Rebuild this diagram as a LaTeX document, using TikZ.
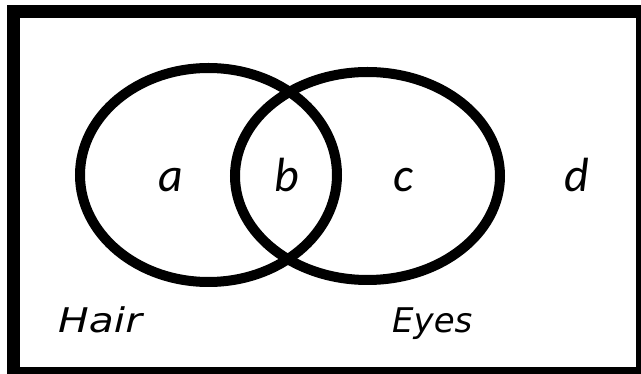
\documentclass[tikz,border=0pt]{standalone}
\usepackage{fontspec}
\newfontfamily\letterfont{Carlito}
\newfontfamily\setfont{DejaVu Sans}
\tikzset{
  venn/.style={line width=10pt, draw=black},
  frame/.style={line width=13pt, draw=black},
  region/.style={font=\letterfont\itshape\fontsize{48}{48}\selectfont, anchor=base, inner sep=0pt},
  setlabel/.style={font=\setfont\itshape\fontsize{34}{34}\selectfont, anchor=base west, inner sep=0pt},
}
\begin{document}
\begin{tikzpicture}[x=1pt,y=-1pt]
\useasboundingbox (0,0) rectangle (641,374);
\draw[frame] (13.5,12) rectangle (642.5,373.5);
\draw[venn] (208.5,175) ellipse [x radius=128.5, y radius=107];
\draw[venn] (367.5,176) ellipse [x radius=132.5, y radius=104];
\node[region] (a) at (171,192) {a};
\node[region] (b) at (286.5,192) {b};
\node[region] (c) at (403,192) {c};
\node[region] (d) at (576.5,192) {d};
\node[setlabel, xscale=1.2] (hair) at (58,333) {Hair};
\node[setlabel] (eyes) at (392,333) {Eyes};
\end{tikzpicture}
\end{document}
